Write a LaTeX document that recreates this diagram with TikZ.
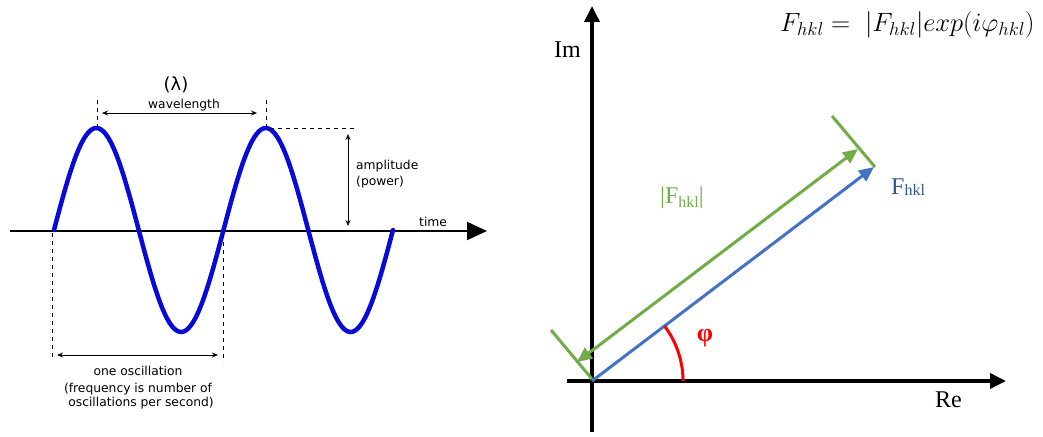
\documentclass[tikz,border=0pt]{standalone}
\usepackage{fix-cm}
\usepackage{fontspec}
\setmainfont{Liberation Serif}
\newfontfamily\wavefont{DejaVu Sans}
\usetikzlibrary{arrows.meta}
\definecolor{wblue}{RGB}{10,10,215}
\definecolor{ogreen}{RGB}{112,173,71}
\definecolor{oblue}{RGB}{68,114,196}
\definecolor{fblue}{RGB}{52,86,140}
\tikzset{
  dsh/.style={line width=1pt, dash pattern=on 4pt off 4pt},
  dimarrow/.style={line width=1pt, {Stealth[length=6pt,width=5pt]}-{Stealth[length=6pt,width=5pt]}},
  wtext/.style={inner sep=0pt, font=\wavefont\fontsize{12.3}{15}\selectfont},
  stext/.style={inner sep=0pt, font=\fontsize{24}{28}\selectfont},
  axis/.style={line width=3.5pt, -{Triangle[length=16pt,width=15pt]}},
  vec/.style={line width=3pt, -{Triangle[length=15pt,width=13pt]}},
}
\begin{document}
\begin{tikzpicture}[x=1pt,y=-1pt]
\useasboundingbox (0,0) rectangle (1043,436);
% ---------- left panel ----------
\coordinate (tS) at (10,231);
\coordinate (tE) at (487,231);
\draw[line width=2pt, -{Triangle[length=20pt,width=18pt]}] (tS) -- (tE);
\draw[wblue, line width=4.5pt, line cap=round] plot[domain=54:393, samples=160] (\x, {230-102*sin((\x-54)*2.12389)});
% dashed guides
\coordinate (p1a) at (97,100);  \coordinate (p1b) at (97,126);
\coordinate (p2a) at (266,100); \coordinate (p2b) at (266,126);
\coordinate (h1a) at (270,128); \coordinate (h1b) at (357,128);
\coordinate (z1a) at (52,233);  \coordinate (z1b) at (52,360);
\coordinate (z2a) at (223,234); \coordinate (z2b) at (223,362);
\draw[dsh] (p1a) -- (p1b);
\draw[dsh] (p2a) -- (p2b);
\draw[dsh] (h1a) -- (h1b);
\draw[dsh] (z1a) -- (z1b);
\draw[dsh] (z2a) -- (z2b);
% dimension arrows
\coordinate (wlA) at (102,113); \coordinate (wlB) at (257,113);
\coordinate (amA) at (348,134); \coordinate (amB) at (348,226);
\coordinate (ocA) at (57,355);  \coordinate (ocB) at (218,355);
\draw[dimarrow] (wlA) -- (wlB);
\draw[dimarrow] (amA) -- (amB);
\draw[dimarrow] (ocA) -- (ocB);
% labels
\node[wtext, anchor=base, font=\wavefont\fontsize{18}{20}\selectfont] (lam) at (176,90) {(λ)};
\node[wtext, anchor=base] (wl) at (184,108) {wavelength};
\node[wtext, anchor=base west] (amp) at (356,169) {amplitude};
\node[wtext, anchor=base west] (pow) at (356,185) {(power)};
\node[wtext, anchor=base west] (time) at (419,226) {time};
\node[wtext, anchor=base] (osc1) at (138,375) {one oscillation};
\node[wtext, anchor=base] (osc2) at (138,392.5) {(frequency is number of};
\node[wtext, anchor=base] (osc3) at (141,406.5) {oscillations per second)};
% ---------- right panel ----------
\coordinate (O) at (592,381);
\coordinate (imS) at (592,432); \coordinate (imE) at (592,6);
\coordinate (reS) at (567,381); \coordinate (reE) at (1006,381);
\draw[axis] (imS) -- (imE);
\draw[axis] (reS) -- (reE);
\coordinate (F) at (874,167);
\draw[oblue, vec] (O) -- (F);
\coordinate (gA) at (577,362); \coordinate (gB) at (858,149);
\draw[ogreen, line width=3pt, {Triangle[length=15pt,width=13pt]}-{Triangle[length=15pt,width=13pt]}] (gA) -- (gB);
\coordinate (t1a) at (551,330); \coordinate (t1b) at (592,379);
\coordinate (t2a) at (832,116); \coordinate (t2b) at (875,167);
\draw[ogreen, line width=3pt] (t1a) -- (t1b);
\draw[ogreen, line width=3pt] (t2a) -- (t2b);
\coordinate (arcS) at (683,381);
\draw[red, line width=3pt] (arcS) arc[start angle=0, end angle=-37, radius=91];
\node[red, inner sep=0pt, font=\fontsize{26}{28}\selectfont\bfseries] (phi) at (705,338) {φ};
\node[stext, anchor=base west] (im) at (554,58) {Im};
\node[stext, anchor=base west] (re) at (935,407) {Re};
\node[stext, anchor=base west, text=ogreen] (absF) at (660,203) {|F\raisebox{-4pt}{\fontsize{16}{16}\selectfont hkl}|};
\node[stext, anchor=base west, text=fblue] (Fh) at (891,194) {F\raisebox{-1pt}{\fontsize{16}{16}\selectfont hkl}};
\node[inner sep=0pt, anchor=base west, font=\fontsize{26.5}{30}\selectfont] (eq) at (780,32) {$F_{hkl} =\; |F_{hkl}|exp(i\varphi_{hkl})$};
\end{tikzpicture}
\end{document}
